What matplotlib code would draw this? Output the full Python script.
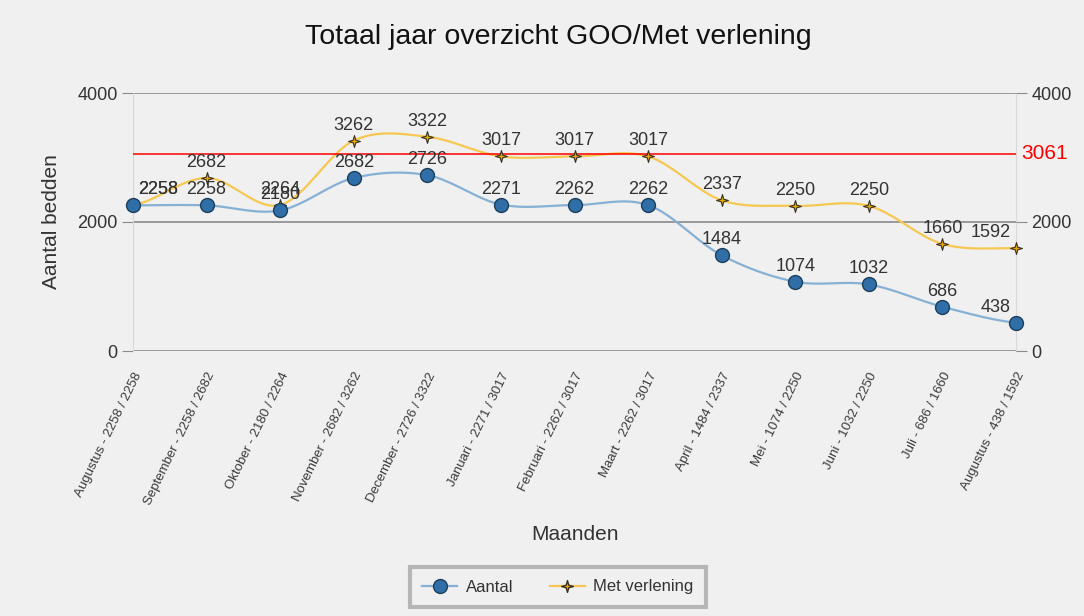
import numpy as np
import matplotlib
matplotlib.use("Agg")
import matplotlib.pyplot as plt
from matplotlib.path import Path

months = ["Augustus", "September", "Oktober", "November", "December", "Januari",
          "Februari", "Maart", "April", "Mei", "Juni", "Juli", "Augustus"]
aantal = [2258, 2258, 2180, 2682, 2726, 2271, 2262, 2262, 1484, 1074, 1032, 686, 438]
verlening = [2258, 2682, 2264, 3262, 3322, 3017, 3017, 3017, 2337, 2250, 2250, 1660, 1592]
norm = 3061

BG = "#f0f0f0"
BLUE_LINE = "#86b0d4"
BLUE_MARK = "#2f6ea6"
ORANGE_LINE = "#f6c852"
ORANGE_MARK = "#e8a800"
GRID = "#8a8a8a"
TXT = "#333333"

plt.rcParams["font.family"] = ["Liberation Sans", "DejaVu Sans"]

# 4-point star marker
star4 = Path([(0, 1), (0.22, 0.22), (1, 0), (0.22, -0.22), (0, -1),
              (-0.22, -0.22), (-1, 0), (-0.22, 0.22), (0, 1)],
             [Path.MOVETO] + [Path.LINETO] * 7 + [Path.CLOSEPOLY])


def smooth(xs, ys, n=20):
    # Catmull-Rom spline through the data points (for drawing only)
    xs = np.asarray(xs, float)
    ys = np.asarray(ys, float)
    px = np.concatenate([[2 * xs[0] - xs[1]], xs, [2 * xs[-1] - xs[-2]]])
    py = np.concatenate([[ys[0]], ys, [ys[-1]]])
    out_x, out_y = [], []
    t = np.linspace(0, 1, n, endpoint=False)
    for i in range(1, len(px) - 2):
        for arr, out in ((px, out_x), (py, out_y)):
            p0, p1, p2, p3 = arr[i - 1], arr[i], arr[i + 1], arr[i + 2]
            out.extend(0.5 * ((2 * p1) + (-p0 + p2) * t
                              + (2 * p0 - 5 * p1 + 4 * p2 - p3) * t ** 2
                              + (-p0 + 3 * p1 - 3 * p2 + p3) * t ** 3))
    out_x.append(xs[-1])
    out_y.append(ys[-1])
    return np.array(out_x), np.array(out_y)


fig = plt.figure(figsize=(10.84, 6.16), dpi=100, facecolor=BG)
ax = fig.add_axes([133 / 1084, 1 - 351 / 616, (1016 - 133) / 1084, (351 - 93) / 616])
ax.set_facecolor(BG)

x = np.arange(len(months))

sx, sy = smooth(x, verlening)
ax.plot(sx, sy, color=ORANGE_LINE, lw=1.6, zorder=2)
sx, sy = smooth(x, aantal)
ax.plot(sx, sy, color=BLUE_LINE, lw=1.6, zorder=2)

ax.plot(x, verlening, ls="none", marker=star4, ms=8.5, mfc=ORANGE_MARK, mec="#3a3020", mew=0.8,
        zorder=3.5, clip_on=False)
ax.plot(x, aantal, ls="none", marker="o", ms=10, mfc=BLUE_MARK, mec="#1e3f5c", mew=1,
        zorder=4, clip_on=False)

# legend proxies
ax.plot([], [], color=BLUE_LINE, lw=1.6, marker="o", ms=10, mfc=BLUE_MARK, mec="#1e3f5c",
        label="Aantal")
ax.plot([], [], color=ORANGE_LINE, lw=1.6, marker=star4, ms=8.5, mfc=ORANGE_MARK, mec="#3a3020",
        label="Met verlening")

for series in (aantal, verlening):
    for i, v in enumerate(series):
        ha, dx = "center", 0
        if i == 0:
            ha, dx = "left", 4
        elif i == len(series) - 1:
            ha, dx = "right", -4
        ax.annotate(str(v), (i, v), xytext=(dx, 5), textcoords="offset points",
                    ha=ha, va="bottom", fontsize=13, color=TXT, zorder=5)

ax.axhline(norm, color="red", lw=1.1, zorder=3)

ax.set_xlim(0, len(months) - 1)
ax.set_ylim(0, 4000)
ax.set_yticks([0, 2000, 4000])
ax.grid(axis="y", color=GRID, lw=1.2)
ax.set_axisbelow(True)
for s in ("top", "bottom"):
    ax.spines[s].set_visible(False)
for s in ("left", "right"):
    ax.spines[s].set_color("#d8d8d8")
ax.tick_params(axis="y", length=8, color=GRID, labelsize=13, labelcolor=TXT, pad=3)
ax.tick_params(axis="x", length=0, pad=14)

labels = [f"{m} - {a} / {v}" for m, a, v in zip(months, aantal, verlening)]
ax.set_xticks(x)
ax.set_xticklabels(labels, rotation=64, ha="right", rotation_mode="anchor",
                   fontsize=9.5, color="#3a3a3a")

ax2 = ax.twinx()
ax2.set_ylim(0, 4000)
ax2.set_yticks([0, 2000, 4000])
ax2.tick_params(axis="y", length=8, color=GRID, labelsize=13, labelcolor=TXT, pad=3)
for s in ax2.spines.values():
    s.set_visible(False)
ax2.text(1.006, norm, str(norm), transform=ax2.get_yaxis_transform(), color="red",
         fontsize=15, va="center", ha="left")

ax.set_ylabel("Aantal bedden", fontsize=15, color=TXT, labelpad=12)
fig.text(575 / 1084, 1 - 535 / 616, "Maanden", fontsize=15, color=TXT, ha="center", va="center")
fig.text(558 / 1084, 1 - 37 / 616, "Totaal jaar overzicht GOO/Met verlening", fontsize=20.5,
         color="#111111", ha="center", va="center")

leg = fig.legend(loc="center", bbox_to_anchor=(558 / 1084, 1 - 587 / 616), ncol=2,
                 fontsize=12, frameon=True, fancybox=False, handlelength=2.1,
                 handletextpad=0.5, columnspacing=2.2, borderpad=0.75)
leg.get_frame().set_edgecolor("#a8a8a8")
leg.get_frame().set_linewidth(3)
leg.get_frame().set_facecolor(BG)
for t in leg.get_texts():
    t.set_color(TXT)

fig.savefig("out.png", dpi=100, facecolor=BG)
